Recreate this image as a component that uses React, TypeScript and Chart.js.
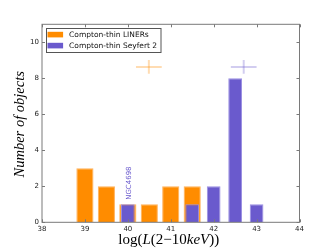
import React, { useEffect, useRef } from 'react';
import { Chart, registerables } from 'chart.js';

Chart.register(...registerables);

// ---- data ----
const linerCenters = [39.0, 39.5, 40.0, 40.5, 41.0, 41.5];
const linerCounts = [3, 2, 1, 1, 2, 2];
const seyfertCenters = [40.0, 41.5, 42.0, 42.5, 43.0];
const seyfertCounts = [1, 1, 2, 8, 1];
const meanX = [40.49, 42.7]; // LINERs, Seyfert 2
const meanY = [8.63, 8.63];
const errX = [0.3, 0.3];
const errY = [0.38, 0.38];
const xTicks = [38, 39, 40, 41, 42, 43, 44];
const yTicks = [0, 2, 4, 6, 8, 10];
const seriesLabels = ['Compton-thin LINERs', 'Compton-thin Seyfert 2'];
const noteText = 'NGC4698';
const noteX = 40.03;
const noteY = 1.25;

const ORANGE = '#FF8C00';
const ORANGE_EDGE = '#FFB15A';
const PURPLE = '#6A5ACD';
const PURPLE_EDGE = '#9A8FE2';
const ORANGE_ERR = 'rgba(255,140,0,0.3)';
const PURPLE_ERR = 'rgba(106,90,205,0.3)';
const FRAME = '#7a7a7a';

type Seg = { t: string; it: boolean };
const xTitle: Seg[] = [
  { t: 'log(', it: false },
  { t: 'L', it: true },
  { t: '(2\u221210', it: false },
  { t: 'keV', it: true },
  { t: '))', it: false },
];
const yTitle: Seg[] = [{ t: 'Number of objects', it: true }];

function drawSegs(ctx: CanvasRenderingContext2D, segs: Seg[], size: number, cx: number, cy: number, rot: number) {
  ctx.save();
  ctx.translate(cx, cy);
  ctx.rotate(rot);
  const fam = '"Liberation Serif", serif';
  const ws = segs.map((s) => {
    ctx.font = `${s.it ? 'italic ' : ''}${size}px ${fam}`;
    return ctx.measureText(s.t).width;
  });
  const total = ws.reduce((a, b) => a + b, 0);
  let x = -total / 2;
  ctx.fillStyle = '#000';
  ctx.textBaseline = 'middle';
  ctx.textAlign = 'left';
  segs.forEach((s, i) => {
    ctx.font = `${s.it ? 'italic ' : ''}${size}px ${fam}`;
    ctx.fillText(s.t, x, 0);
    x += ws[i];
  });
  ctx.restore();
}

const decorPlugin = {
  id: 'decor',
  afterDraw(chart: any) {
    const ctx: CanvasRenderingContext2D = chart.ctx;
    const { left, right, top, bottom } = chart.chartArea;
    const xs = chart.scales.x;
    const ys = chart.scales.y;
    ctx.save();
    // frame
    ctx.strokeStyle = FRAME;
    ctx.lineWidth = 1;
    ctx.strokeRect(left, top, right - left, bottom - top);
    // inside ticks
    const tl = 3;
    ctx.beginPath();
    xTicks.forEach((v) => {
      const px = Math.round(xs.getPixelForValue(v)) + 0.5;
      ctx.moveTo(px, bottom);
      ctx.lineTo(px, bottom - tl);
      ctx.moveTo(px, top);
      ctx.lineTo(px, top + tl);
    });
    yTicks.forEach((v) => {
      const py = Math.round(ys.getPixelForValue(v)) + 0.5;
      ctx.moveTo(left, py);
      ctx.lineTo(left + tl, py);
      ctx.moveTo(right, py);
      ctx.lineTo(right - tl, py);
    });
    ctx.stroke();

    // annotation
    ctx.save();
    ctx.translate(xs.getPixelForValue(noteX), ys.getPixelForValue(noteY));
    ctx.rotate(-Math.PI / 2);
    ctx.font = '7px "DejaVu Sans"';
    ctx.fillStyle = PURPLE;
    ctx.textAlign = 'left';
    ctx.textBaseline = 'middle';
    ctx.fillText(noteText, 0, 0);
    ctx.restore();

    // legend
    const bx = left + 3.5;
    const by = top + 4;
    const bw = 114.5;
    const bh = 24;
    ctx.fillStyle = '#fff';
    ctx.fillRect(bx, by, bw, bh);
    ctx.strokeStyle = '#555';
    ctx.strokeRect(Math.round(bx) + 0.5, Math.round(by) + 0.5, bw, bh);
    const cols = [ORANGE, PURPLE];
    ctx.font = '7.5px "DejaVu Sans"';
    ctx.textBaseline = 'middle';
    ctx.textAlign = 'left';
    seriesLabels.forEach((lab, i) => {
      const cy = by + 6.3 + i * 11;
      ctx.fillStyle = cols[i];
      ctx.fillRect(bx + 2, cy - 2.8, 15.6, 5.6);
      ctx.fillStyle = '#111';
      ctx.fillText(lab, bx + 23.6, cy);
    });

    // axis titles
    drawSegs(ctx, xTitle, 15, (left + right) / 2 - 2, 240, 0);
    drawSegs(ctx, yTitle, 14.5, 20, (top + bottom) / 2 + 1, -Math.PI / 2);
    ctx.restore();
  },
};

function crossArm(i: number, horizontal: boolean) {
  return horizontal
    ? [
        { x: meanX[i] - errX[i], y: meanY[i] },
        { x: meanX[i] + errX[i], y: meanY[i] },
      ]
    : [
        { x: meanX[i], y: meanY[i] - errY[i] },
        { x: meanX[i], y: meanY[i] + errY[i] },
      ];
}

export default function App() {
  const ref = useRef<HTMLCanvasElement | null>(null);
  useEffect(() => {
    document.body.style.margin = '0';
    const canvas = ref.current;
    if (!canvas) return;
    const errCols = [ORANGE_ERR, PURPLE_ERR];
    const lineSets: any[] = [];
    [0, 1].forEach((i) => {
      [true, false].forEach((h) => {
        lineSets.push({
          type: 'line',
          data: crossArm(i, h),
          borderColor: errCols[i],
          borderWidth: 2,
          borderCapStyle: 'butt',
          pointRadius: 0,
          fill: false,
          order: 3,
        });
      });
    });
    const chart = new Chart(canvas, {
      type: 'bar',
      data: {
        datasets: [
          {
            label: seriesLabels[1],
            data: seyfertCenters.map((x, i) => ({ x, y: seyfertCounts[i] })),
            backgroundColor: PURPLE,
            borderColor: PURPLE_EDGE,
            borderWidth: 1,
            grouped: false,
            categoryPercentage: 1,
            barPercentage: 0.64,
            order: 0,
          } as any,
          {
            label: seriesLabels[0],
            data: linerCenters.map((x, i) => ({ x, y: linerCounts[i] })),
            backgroundColor: ORANGE,
            borderColor: ORANGE_EDGE,
            borderWidth: 1,
            grouped: false,
            categoryPercentage: 1,
            barPercentage: 0.8,
            order: 1,
          } as any,
          ...lineSets,
        ],
      },
      options: {
        responsive: false,
        animation: false,
        layout: { padding: { left: 0, right: 32.5, top: 24.3, bottom: 0 } },
        plugins: { legend: { display: false }, tooltip: { enabled: false } },
        scales: {
          x: {
            type: 'linear',
            min: 38,
            max: 44,
            offset: false,
            grid: { display: false, drawTicks: false, offset: false },
            border: { display: false },
            ticks: {
              padding: 3,
              autoSkip: false,
              maxRotation: 0,
              color: '#222',
              font: { family: 'DejaVu Sans', size: 7 },
            },
            afterBuildTicks: (s: any) => {
              s.ticks = xTicks.map((v) => ({ value: v }));
            },
            afterFit: (s: any) => {
              s.height = 26.7;
            },
          },
          y: {
            type: 'linear',
            min: 0,
            max: 11,
            grid: { display: false, drawTicks: false },
            border: { display: false },
            ticks: {
              padding: 3,
              color: '#222',
              font: { family: 'DejaVu Sans', size: 7 },
            },
            afterBuildTicks: (s: any) => {
              s.ticks = yTicks.map((v) => ({ value: v }));
            },
            afterFit: (s: any) => {
              s.width = 42;
            },
          },
        },
      } as any,
      plugins: [decorPlugin],
    });
    return () => chart.destroy();
  }, []);
  return (
    <div style={{ width: 332, height: 249 }}>
      <canvas ref={ref} width={332} height={249} />
    </div>
  );
}
